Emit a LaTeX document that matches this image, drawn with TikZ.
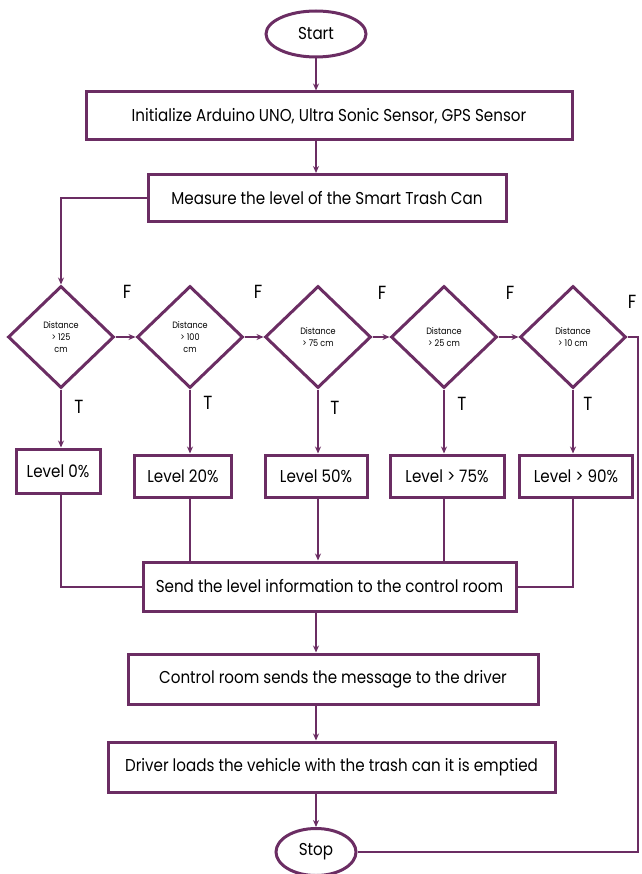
\documentclass[tikz,border=0pt]{standalone}
\usepackage{fontspec}
\setmainfont{Poppins}[FakeStretch=0.88]
\usetikzlibrary{shapes.geometric,arrows.meta}
\definecolor{plum}{HTML}{6B2D63}
\begin{document}
\begin{tikzpicture}[x=1pt,y=-1pt,
    every node/.style={font=\fontsize{17.2}{19}\selectfont},
    box/.style={draw=plum, line width=3pt, rectangle, inner sep=0pt},
    term/.style={draw=plum, line width=3pt, ellipse, inner sep=0pt},
    test/.style={draw=plum, line width=3pt, diamond, inner sep=0pt,
      minimum width=106, minimum height=102, align=center,
      font=\fontsize{9.2}{12}\selectfont},
    link/.style={draw=plum, line width=2pt},
    flow/.style={link, -{Stealth[length=7pt,width=6pt]}},
    tag/.style={font=\fontsize{19}{21}\selectfont, inner sep=0pt}]

    \useasboundingbox (0,0) rectangle (641,874);

    \node[term, minimum width=100, minimum height=46] (start) at (316,34) {Start};
    \node[box, minimum width=486, minimum height=48] (init) at (329,116)
      {Initialize Arduino UNO, Ultra Sonic Sensor, GPS Sensor};
    \node[box, minimum width=358, minimum height=47] (measure) at (327,198)
      {Measure the level of the Smart Trash Can};

    \foreach \i/\x/\t in {1/61/{Distance\\> 125\\cm}, 2/190/{Distance\\> 100\\cm},
        3/318/{Distance\\> 75 cm}, 4/444/{Distance\\> 25 cm}, 5/573/{Distance\\> 10 cm}}
      \node[test] (d\i) at (\x,337) {\t};

    \foreach \i/\x/\y/\w/\h/\t in {1/58/471/84/44/{Level 0\%}, 2/183/476/97/42/{Level 20\%},
        3/316/476/102/42/{Level 50\%}, 4/447/476/114/42/{Level > 75\%},
        5/576/476/113/42/{Level > 90\%}}
      \node[box, minimum width=\w, minimum height=\h] (l\i) at (\x,\y) {\t};

    \node[box, minimum width=373, minimum height=49] (send) at (329.5,586.5)
      {Send the level information to the control room};
    \node[box, minimum width=410, minimum height=50] (ctrl) at (333,679)
      {Control room sends the message to the driver};
    \node[box, minimum width=447, minimum height=50] (driver) at (331.5,767)
      {Driver loads the vehicle with the trash can it is emptied};
    \node[term, minimum width=80, minimum height=47] (stop) at (316,852) {Stop};

    \draw[flow] (start.south) -- (start |- init.north);
    \draw[flow] (start |- init.south) -- (start |- measure.north);
    \draw[flow] (measure.west) -| (d1.north);

    \foreach \i [count=\j from 2] in {1,...,4}
      \draw[flow] (d\i.east) -- (d\j.west);
    \foreach \i in {1,...,5}
      \draw[flow] (d\i.south) -- (d\i |- l\i.north);

    \draw[link] (d1 |- l1.south) |- (send.west);
    \draw[link] (d2 |- l2.south) -- (d2 |- send.north);
    \draw[flow] (d3 |- l3.south) -- (d3 |- send.north);
    \draw[link] (d4 |- l4.south) -- (d4 |- send.north);
    \draw[link] (d5 |- l5.south) |- (send.east);

    \draw[flow] (start |- send.south) -- (start |- ctrl.north);
    \draw[flow] (start |- ctrl.south) -- (start |- driver.north);
    \draw[flow] (start |- driver.south) -- (stop.north);

    \coordinate (rim) at (638,852);
    \draw[link] (d5.east) -| (rim) -- (stop.east);

    \foreach \i/\x/\y in {1/127/292, 2/258/292, 3/382/293, 4/510/293, 5/632/302}
      \node[tag] (f\i) at (\x,\y) {F};
    \foreach \i/\x/\y in {1/79/407, 2/208/403, 3/335/408, 4/462/404, 5/588/404}
      \node[tag] (t\i) at (\x,\y) {T};
\end{tikzpicture}
\end{document}
